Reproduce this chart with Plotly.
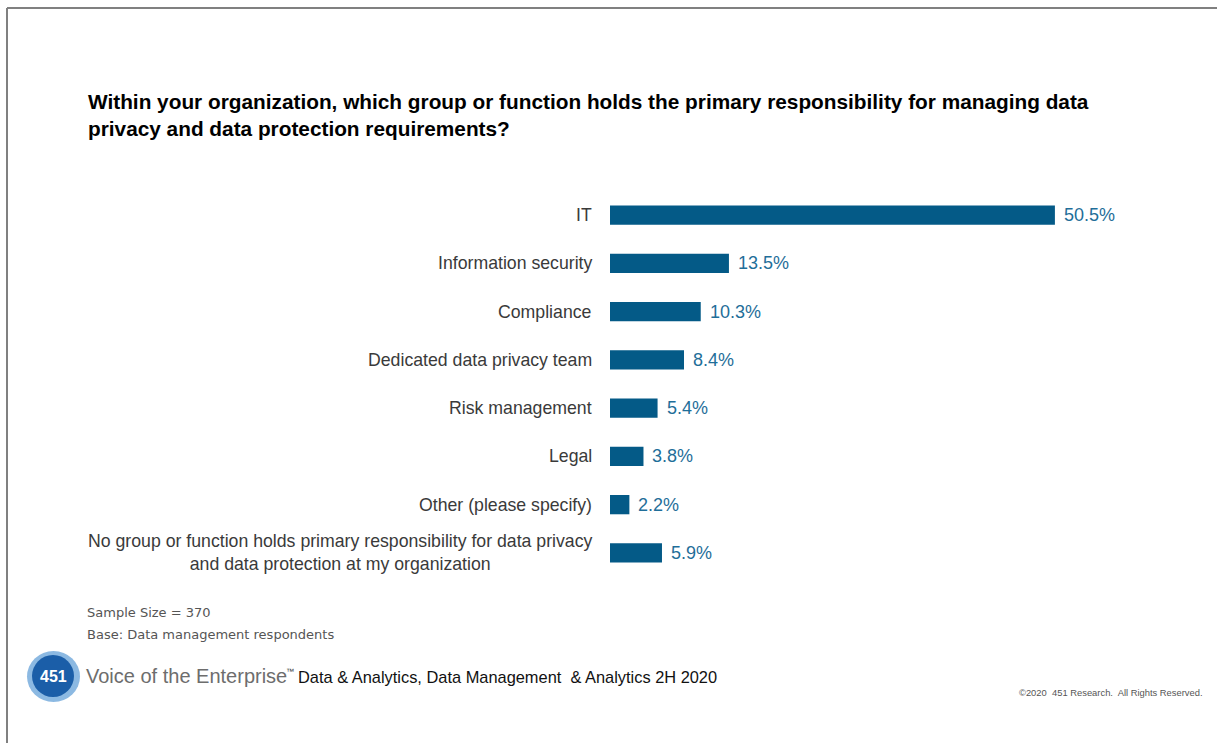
import plotly.graph_objects as go

categories = [
    "IT",
    "Information security",
    "Compliance",
    "Dedicated data privacy team",
    "Risk management",
    "Legal",
    "Other (please specify)",
    "No group or function holds primary responsibility for data privacy<br>and data protection at my organization",
]
values = [50.5, 13.5, 10.3, 8.4, 5.4, 3.8, 2.2, 5.9]
value_labels = ["50.5%", "13.5%", "10.3%", "8.4%", "5.4%", "3.8%", "2.2%", "5.9%"]

W, H = 1217, 743
L, R, T, B = 610, 107, 191, 166
PW, PH = W - L - R, H - T - B

BAR = "#045a87"
LABEL = "#1f6e99"
SANS = "Liberation Sans, Arial, sans-serif"


def px(x):
    return (x - L) / PW


def py(y):
    return 1 - (y - T) / PH


fig = go.Figure()
fig.add_trace(go.Bar(
    x=values,
    y=categories,
    orientation="h",
    marker=dict(color=BAR, line=dict(width=0)),
    width=0.4,
    hoverinfo="skip",
))

annotations = []
# category labels, right-aligned to the axis; wrapped lines centred on each other
for cat in categories:
    annotations.append(dict(
        x=px(594), y=cat, xref="paper", yref="y", text=cat, showarrow=False,
        xanchor="right", yanchor="middle", align="center",
        font=dict(family=SANS, size=17.7, color="#3a3a3a"),
    ))
for cat, v, lab in zip(categories, values, value_labels):
    annotations.append(dict(
        x=v, y=cat, xref="x", yref="y", text=lab, showarrow=False,
        xanchor="left", xshift=7,
        font=dict(family=SANS, size=18, color=LABEL),
    ))

title = ("Within your organization, which group or function holds the primary responsibility for managing data<br>"
         "privacy and data protection requirements?")
annotations.append(dict(
    x=px(86), y=py(88), xref="paper", yref="paper", xanchor="left", yanchor="top",
    text="<b>" + title + "</b>", showarrow=False, align="left",
    font=dict(family=SANS, size=20.8, color="#000000"),
))
annotations.append(dict(
    x=px(85), y=py(612), xref="paper", yref="paper", xanchor="left", yanchor="middle",
    text="Sample Size = 370", showarrow=False,
    font=dict(family="DejaVu Sans, sans-serif", size=13, color="#555555"),
))
annotations.append(dict(
    x=px(85), y=py(634), xref="paper", yref="paper", xanchor="left", yanchor="middle",
    text="Base: Data management respondents", showarrow=False,
    font=dict(family="DejaVu Sans, sans-serif", size=13, color="#555555"),
))
annotations.append(dict(
    x=px(53), y=py(676), xref="paper", yref="paper", xanchor="center", yanchor="middle",
    text="<b>451</b>", showarrow=False,
    font=dict(family=SANS, size=16, color="#ffffff"),
))
annotations.append(dict(
    x=px(84), y=py(676), xref="paper", yref="paper", xanchor="left", yanchor="middle",
    text="Voice of the Enterprise", showarrow=False,
    font=dict(family=SANS, size=20, color="#6d6d6d"),
))
annotations.append(dict(
    x=px(284), y=py(671), xref="paper", yref="paper", xanchor="left", yanchor="middle",
    text="™", showarrow=False,
    font=dict(family=SANS, size=8, color="#333333"),
))
annotations.append(dict(
    x=px(296), y=py(677), xref="paper", yref="paper", xanchor="left", yanchor="middle",
    text="Data &amp; Analytics, Data Management  &amp; Analytics 2H 2020", showarrow=False,
    font=dict(family=SANS, size=16.4, color="#111111"),
))
annotations.append(dict(
    x=px(1205), y=py(692), xref="paper", yref="paper", xanchor="right", yanchor="middle",
    text="©2020  451 Research.  All Rights Reserved.", showarrow=False,
    font=dict(family=SANS, size=9.4, color="#555555"),
))

shapes = [
    # frame lines
    dict(type="line", xref="paper", yref="paper", x0=px(7), x1=px(1217), y0=py(8), y1=py(8),
         line=dict(color="#808080", width=2)),
    dict(type="line", xref="paper", yref="paper", x0=px(7), x1=px(7), y0=py(8), y1=py(743),
         line=dict(color="#808080", width=2)),
    # logo roundel
    dict(type="circle", xref="paper", yref="paper", x0=px(27), x1=px(80), y0=py(651), y1=py(702),
         fillcolor="rgba(91,155,213,0.7)", line=dict(width=0)),
    dict(type="circle", xref="paper", yref="paper", x0=px(32), x1=px(74), y0=py(655), y1=py(697),
         fillcolor="#1b5ea8", line=dict(width=0)),
]

fig.update_layout(
    width=W, height=H,
    margin=dict(l=L, r=R, t=T, b=B, autoexpand=False),
    paper_bgcolor="#ffffff", plot_bgcolor="#ffffff",
    showlegend=False,
    xaxis=dict(range=[0, PW / 8.81], visible=False, fixedrange=True),
    yaxis=dict(
        autorange="reversed", showgrid=False, zeroline=False, showline=False,
        ticks="", showticklabels=False,
    ),
    annotations=annotations,
    shapes=shapes,
)

fig.write_html("out.html")
